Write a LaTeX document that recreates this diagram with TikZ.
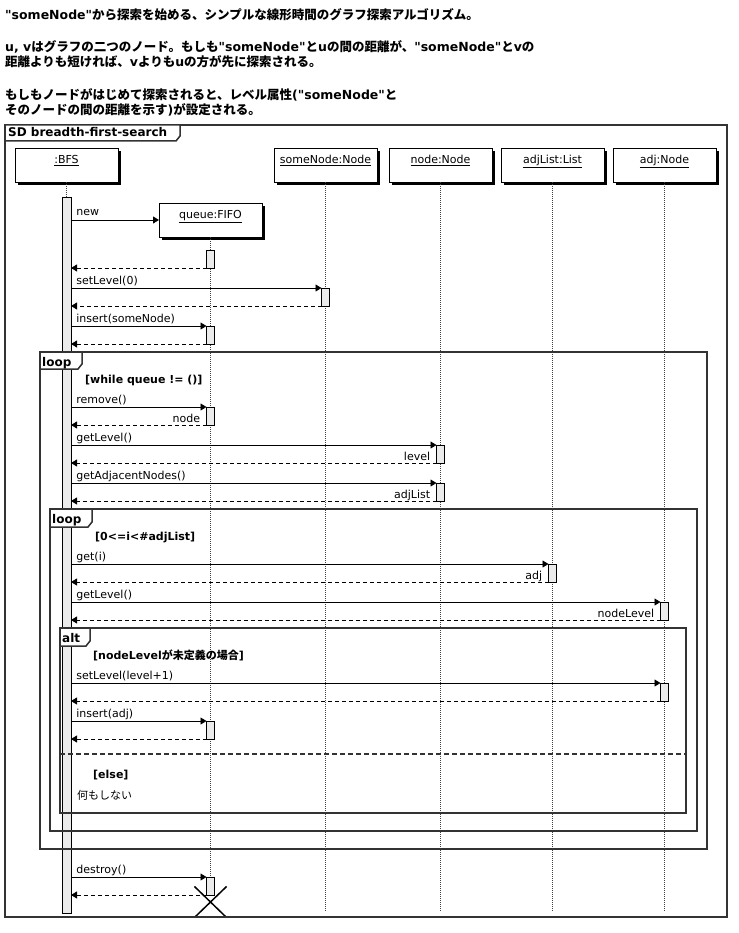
\documentclass[tikz,border=0pt]{standalone}
\usepackage{fontspec}
\setmainfont{DejaVu Sans}
\newfontfamily\jp{Noto Sans CJK JP}
\usepackage{tikz}
\usetikzlibrary{arrows.meta}
\usetikzlibrary{shadows}

\begin{document}
\begin{tikzpicture}[x=1pt,y=-1pt,line cap=rect,
	head/.style={draw, fill=white, line width=0.8pt, minimum width=103, minimum height=34, inner sep=0, outer sep=0, text depth=11pt, font=\fontsize{11pt}{13pt}\selectfont, drop shadow={shadow xshift=3pt, shadow yshift=-3pt, fill=black, opacity=1}},
	actbar/.style={draw, fill=custcol_eb_eb_eb, line width=0.7pt, minimum width=8, minimum height=18, inner sep=0, outer sep=0},
	lifeline/.style={line width=0.6pt, dash pattern=on 1pt off 1pt, line cap=butt, custcol_40_40_40},
	msg/.style={line width=0.8pt, -{Triangle[length=6pt,width=7pt]}},
	ret/.style={line width=0.8pt, dash pattern=on 4pt off 3pt, line cap=butt, -{Triangle[length=6pt,width=7pt]}},
	msglabel/.style={anchor=base west, inner sep=0, xshift=5pt, yshift=4pt, font=\fontsize{11pt}{13pt}\selectfont},
	retlabel/.style={anchor=base east, inner sep=0, xshift=-6pt, yshift=3pt, font=\fontsize{11pt}{13pt}\selectfont},
	frame/.style={line width=1.5pt, custcol_33_33_33},
	tabtext/.style={anchor=base west, inner sep=0, font=\fontsize{12pt}{14pt}\selectfont\bfseries},
	guard/.style={anchor=base west, inner sep=0, font=\fontsize{11pt}{13pt}\selectfont\bfseries},
	plain/.style={anchor=base west, inner sep=0, font=\fontsize{11pt}{13pt}\selectfont},
	intro/.style={anchor=base west, inner sep=0, font=\fontsize{12.5pt}{14pt}\selectfont\bfseries}]
	\definecolor{custcol_eb_eb_eb}{RGB}{235, 235, 235}
	\definecolor{custcol_33_33_33}{RGB}{51, 51, 51}
	\definecolor{custcol_40_40_40}{RGB}{64, 64, 64}
	\def\q{\textquotedbl}
	\useasboundingbox (0,0) rectangle (738,933);
	% explanation above the diagram
	\node[intro] (introA) at (5,20) {\q someNode\q{\jp から探索を始める、シンプルな線形時間のグラフ探索アルゴリズム。}};
	\node[intro] (introB) at (5,52) {u, v{\jp はグラフの二つのノード。もしも}\q someNode\q{\jp と}u{\jp の間の距離が、}\q someNode\q{\jp と}v{\jp の}};
	\node[intro] (introC) at (5,67) {{\jp 距離よりも短ければ、}v{\jp よりも}u{\jp の方が先に探索される。}};
	\node[intro] (introD) at (5,100) {{\jp もしもノードがはじめて探索されると、レベル属性}(\q someNode\q{\jp と}};
	\node[intro] (introE) at (5,115) {{\jp そのノードの間の距離を示す}){\jp が設定される。}};
	% objects
	\node[head] (bfs) at (66.5,165) {\underline{:BFS}};
	\node[head] (queue) at (210.5,220) {\underline{queue:FIFO}};
	\node[head] (someNode) at (325.5,165) {\underline{someNode:Node}};
	\node[head] (node) at (440.5,165) {\underline{node:Node}};
	\node[head] (adjList) at (552.5,165) {\underline{adjList:List}};
	\node[head] (adj) at (664.5,165) {\underline{adj:Node}};
	\coordinate (lifeend) at (0,912);
	\draw[lifeline] (bfs.south) -- (bfs.south |- lifeend);
	\draw[lifeline] (queue.south) -- (queue.south |- 0,895);
	\draw[lifeline] (someNode.south) -- (someNode.south |- lifeend);
	\draw[lifeline] (node.south) -- (node.south |- lifeend);
	\draw[lifeline] (adjList.south) -- (adjList.south |- lifeend);
	\draw[lifeline] (adj.south) -- (adj.south |- lifeend);
	% activations
	\node[actbar, minimum width=9, minimum height=716] (bfsbar) at (66.5,555) {};
	\node[actbar, anchor=north] (q1) at (210.5,250) {};
	\node[actbar, anchor=north] (s1) at (325.5,288) {};
	\node[actbar, anchor=north] (q2) at (210.5,326) {};
	\node[actbar, anchor=north] (q3) at (210.5,407) {};
	\node[actbar, anchor=north] (n1) at (440.5,445) {};
	\node[actbar, anchor=north] (n2) at (440.5,483) {};
	\node[actbar, anchor=north] (l1) at (552.5,564) {};
	\node[actbar, anchor=north] (a1) at (664.5,602) {};
	\node[actbar, anchor=north] (a2) at (664.5,683) {};
	\node[actbar, anchor=north] (q4) at (210.5,721) {};
	\node[actbar, anchor=north] (q5) at (210.5,877) {};
	% messages
	\draw[msg] (bfsbar.east |- queue.west) -- (queue.west) node[msglabel, pos=0] {new};
	\draw[ret] (q1.south west) -- (bfsbar.east |- q1.south west);
	\draw[msg] (bfsbar.east |- s1.north west) -- (s1.north west) node[msglabel, pos=0] {setLevel(0)};
	\draw[ret] (s1.south west) -- (bfsbar.east |- s1.south west);
	\draw[msg] (bfsbar.east |- q2.north west) -- (q2.north west) node[msglabel, pos=0] {insert(someNode)};
	\draw[ret] (q2.south west) -- (bfsbar.east |- q2.south west);
	\draw[msg] (bfsbar.east |- q3.north west) -- (q3.north west) node[msglabel, pos=0] {remove()};
	\draw[ret] (q3.south west) -- (bfsbar.east |- q3.south west) node[retlabel, pos=0] {node};
	\draw[msg] (bfsbar.east |- n1.north west) -- (n1.north west) node[msglabel, pos=0] {getLevel()};
	\draw[ret] (n1.south west) -- (bfsbar.east |- n1.south west) node[retlabel, pos=0] {level};
	\draw[msg] (bfsbar.east |- n2.north west) -- (n2.north west) node[msglabel, pos=0] {getAdjacentNodes()};
	\draw[ret] (n2.south west) -- (bfsbar.east |- n2.south west) node[retlabel, pos=0] {adjList};
	\draw[msg] (bfsbar.east |- l1.north west) -- (l1.north west) node[msglabel, pos=0] {get(i)};
	\draw[ret] (l1.south west) -- (bfsbar.east |- l1.south west) node[retlabel, pos=0] {adj};
	\draw[msg] (bfsbar.east |- a1.north west) -- (a1.north west) node[msglabel, pos=0] {getLevel()};
	\draw[ret] (a1.south west) -- (bfsbar.east |- a1.south west) node[retlabel, pos=0] {nodeLevel};
	\draw[msg] (bfsbar.east |- a2.north west) -- (a2.north west) node[msglabel, pos=0] {setLevel(level+1)};
	\draw[ret] (a2.south west) -- (bfsbar.east |- a2.south west);
	\draw[msg] (bfsbar.east |- q4.north west) -- (q4.north west) node[msglabel, pos=0] {insert(adj)};
	\draw[ret] (q4.south west) -- (bfsbar.east |- q4.south west);
	\draw[msg] (bfsbar.east |- q5.north west) -- (q5.north west) node[msglabel, pos=0] {destroy()};
	\draw[ret] (q5.south west) -- (bfsbar.east |- q5.south west);
	\draw[line width=1.5pt] ([shift={(-15.5,-8)}]q5.south) -- ([shift={(15.5,22)}]q5.south);
	\draw[line width=1.5pt] ([shift={(-15.5,22)}]q5.south) -- ([shift={(15.5,-8)}]q5.south);
	% frames
	\draw[frame] (5,125) rectangle (727,917);
	\draw[frame, fill=white] (5,125) -- (180,125) -- (180,136) -- (176,141) -- (5,141) -- cycle;
	\node[tabtext] (sdtab) at (8,137) {SD breadth-first-search};
	\draw[frame] (40,352) rectangle (707,849);
	\draw[frame, fill=white] (40,352) -- (82,352) -- (82,364) -- (78,369) -- (40,369) -- cycle;
	\node[tabtext] (looptabA) at (42,366) {loop};
	\node[guard] (whileguard) at (85,383) {[while queue != ()]};
	\draw[frame] (50,509) rectangle (697,831);
	\draw[frame, fill=white] (50,509) -- (92,509) -- (92,522) -- (88,527) -- (50,527) -- cycle;
	\node[tabtext] (looptabB) at (52,523) {loop};
	\node[guard] (forguard) at (95,540) {[0<=i<\#adjList]};
	\draw[frame] (60,628) rectangle (686,813);
	\draw[frame, fill=white] (60,628) -- (90,628) -- (90,641) -- (86,646) -- (60,646) -- cycle;
	\node[tabtext] (alttab) at (62,642) {alt};
	\node[guard] (ifguard) at (93,659) {[nodeLevel{\jp が未定義の場合}]};
	\draw[frame, dash pattern=on 5pt off 3pt, line cap=butt] (60,754) -- (686,754);
	\node[guard] (elseguard) at (93,778) {[else]};
	\node[plain] (noop) at (77,799) {{\jp 何もしない}};
\end{tikzpicture}
\end{document}
